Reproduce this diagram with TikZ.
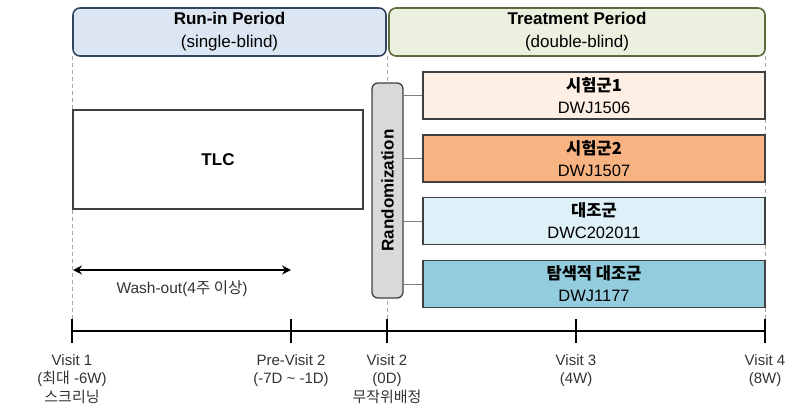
\documentclass[tikz,border=0pt]{standalone}
\usepackage{fontspec}
\setmainfont{Liberation Sans}
\newfontfamily\kr{Noto Sans CJK KR}
\usetikzlibrary{arrows.meta}
\definecolor{runfill}{HTML}{DCE6F2}
\definecolor{rundraw}{HTML}{34465E}
\definecolor{trtfill}{HTML}{EBF1DE}
\definecolor{trtdraw}{HTML}{5C6B3A}
\definecolor{armone}{HTML}{FDEFE3}
\definecolor{armtwo}{HTML}{F7B482}
\definecolor{armthree}{HTML}{DEF1F8}
\definecolor{armfour}{HTML}{93CDDD}
\definecolor{boxdraw}{HTML}{404040}
\definecolor{randfill}{HTML}{D9D9D9}
\definecolor{labtext}{HTML}{333333}
\tikzset{
  period/.style={draw, line width=1.6pt, rounded corners=7pt, minimum width=#1, minimum height=48pt, align=center, inner sep=0pt, font=\fontsize{17}{23}\selectfont},
  armbox/.style={draw=boxdraw, line width=1.3pt, minimum width=342pt, minimum height=47pt, align=center, inner sep=0pt, font=\fontsize{16.5}{22}\selectfont},
  guide/.style={draw=black!35, dashed, line width=0.8pt, dash pattern=on 4pt off 3pt},
  link/.style={draw=black!50, line width=0.8pt},
  tickmark/.style={line width=1.8pt},
  visitlab/.style={anchor=north, inner sep=0pt, align=center, text=labtext, font=\fontsize{15}{18.5}\selectfont}
}
\begin{document}
\begin{tikzpicture}[x=1pt,y=-1pt]
\useasboundingbox (0,0) rectangle (791,407);
% guide lines
\coordinate (g1t) at (72,56);
\coordinate (g1b) at (72,331);
\coordinate (g2t) at (387,56);
\coordinate (g2b) at (387,331);
\coordinate (g3t) at (765,56);
\coordinate (g3b) at (765,331);
\draw[guide] (g1t) -- (g1b);
\draw[guide] (g2t) -- (g2b);
\draw[guide] (g3t) -- (g3b);
% periods
\node[period=313pt, draw=rundraw, fill=runfill] (run) at (229.5,32) {\textbf{Run-in Period}\\(single-blind)};
\node[period=376pt, draw=trtdraw, fill=trtfill] (trt) at (577,32) {\textbf{Treatment Period}\\(double-blind)};
% TLC
\node[draw=boxdraw, fill=white, line width=1.3pt, minimum width=290pt, minimum height=99pt, inner sep=0pt, font=\fontsize{17}{20}\selectfont\bfseries] (tlc) at (218,159.5) {TLC};
% randomization
\node[draw=boxdraw, fill=randfill, line width=1.3pt, rounded corners=6pt, rotate=90, minimum width=215pt, minimum height=31pt, inner sep=0pt, font=\fontsize{17}{19}\selectfont\bfseries] (rand) at (387.5,190.5) {Randomization};
% arms
\node[armbox, fill=armone] (a1) at (594,95.5) {{\kr\bfseries 시험군1}\\DWJ1506};
\node[armbox, fill=armtwo] (a2) at (594,158.5) {{\kr\bfseries 시험군2}\\DWJ1507};
\node[armbox, fill=armthree] (a3) at (594,221) {{\kr\bfseries 대조군}\\DWC202011};
\node[armbox, fill=armfour] (a4) at (594,284) {{\kr\bfseries 탐색적 대조군}\\DWJ1177};
\draw[link] (rand.south |- a1.west) -- (a1.west);
\draw[link] (rand.south |- a2.west) -- (a2.west);
\draw[link] (rand.south |- a3.west) -- (a3.west);
\draw[link] (rand.south |- a4.west) -- (a4.west);
% wash-out
\coordinate (ws) at (73,270);
\coordinate (we) at (291,270);
\draw[line width=1.8pt, {Stealth[length=9pt,width=9pt]}-{Stealth[length=9pt,width=9pt]}] (ws) -- (we);
\node[inner sep=0pt, text=labtext, font=\fontsize{15.5}{18}\selectfont] (wl) at (182,289) {Wash-out(4{\kr 주 이상})};
% timeline
\coordinate (t1) at (72,331);
\coordinate (t2) at (291,331);
\coordinate (t3) at (387,331);
\coordinate (t4) at (576,331);
\coordinate (t5) at (765,331);
\draw[line width=1.5pt] (t1) -- (t5);
\foreach \t in {t1,t2,t3,t4,t5} {
  \draw[tickmark] ([yshift=12pt]\t) -- ([yshift=-12pt]\t);
}
\node[visitlab] (v1) at (72,354) {Visit 1\\({\kr 최대} -6W)\\{\kr 스크리닝}};
\node[visitlab] (v2p) at (291,354) {Pre-Visit 2\\(-7D \textasciitilde{} -1D)};
\node[visitlab] (v2) at (387,354) {Visit 2\\(0D)\\{\kr 무작위배정}};
\node[visitlab] (v3) at (576,354) {Visit 3\\(4W)};
\node[visitlab] (v4) at (765,354) {Visit 4\\(8W)};
\end{tikzpicture}
\end{document}
